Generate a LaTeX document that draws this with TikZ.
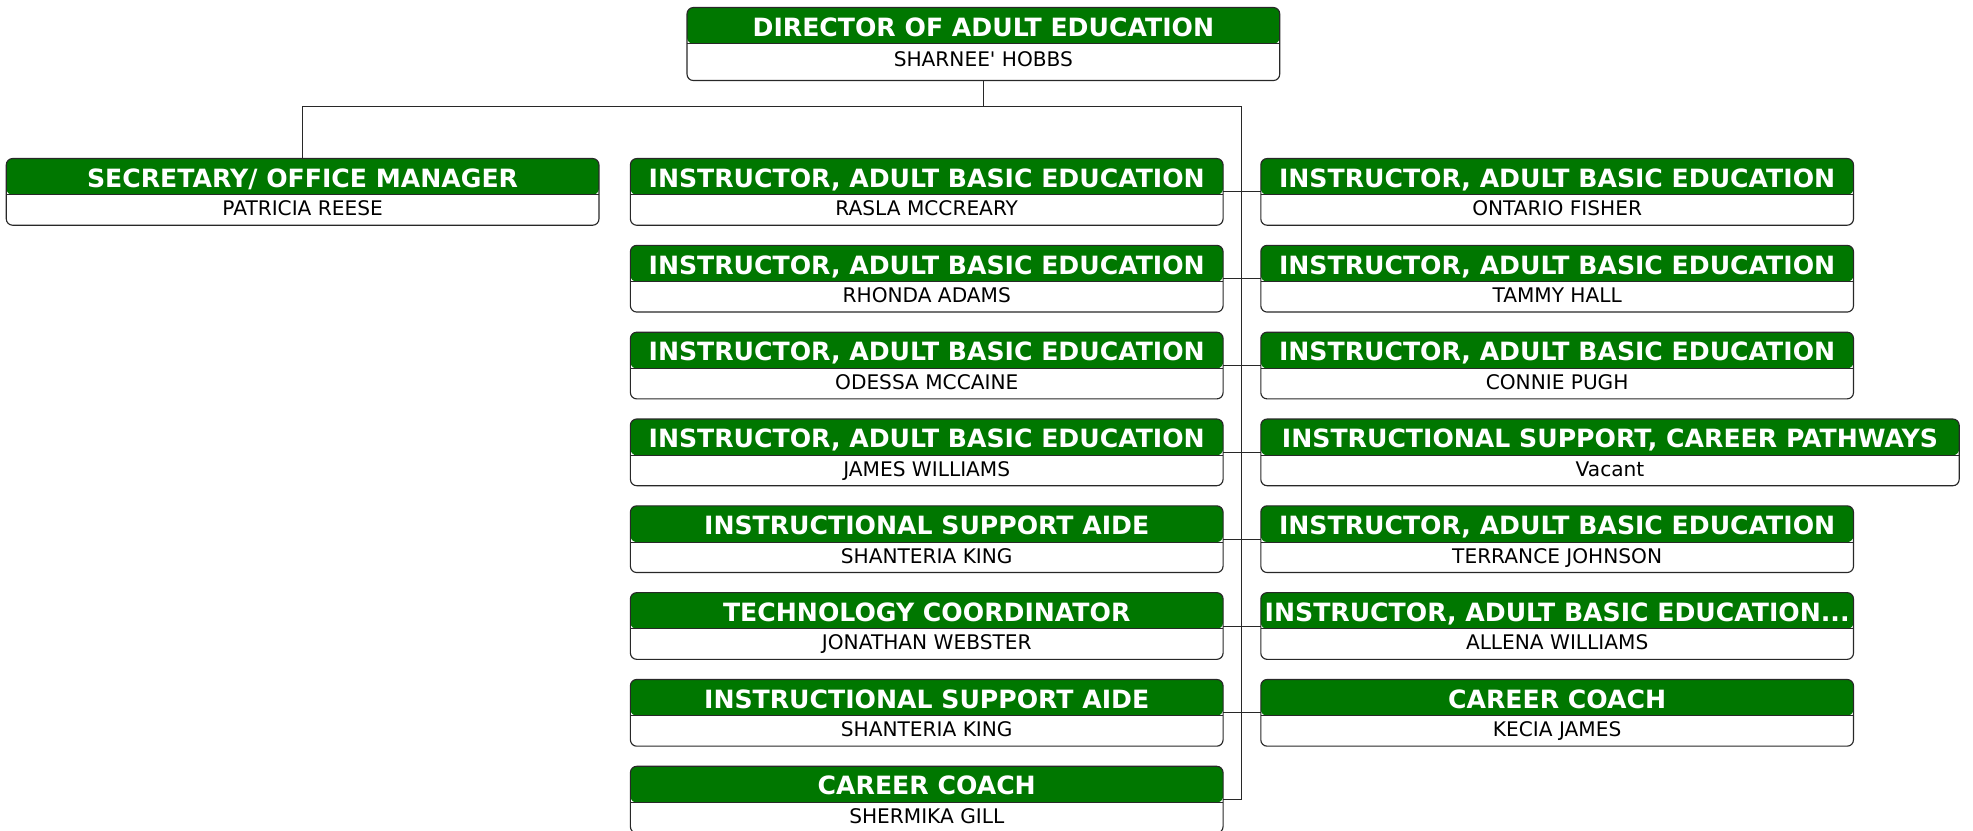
\documentclass[tikz,border=0pt]{standalone}
\usepackage{fontspec}
\setmainfont{DejaVu Sans}
\usetikzlibrary{calc}
\definecolor{hdr}{RGB}{0,119,0}
\definecolor{edge}{RGB}{40,40,40}
\tikzset{
  orgbox/.style={draw=edge, line width=0.9pt, fill=white, rounded corners=5pt,
    inner sep=0pt, outer sep=0pt, anchor=north west,
    path picture={\fill[hdr] (path picture bounding box.north west) rectangle ([yshift=-28.8pt]path picture bounding box.north east);
      \draw[edge, line width=0.9pt] ([yshift=-28.8pt]path picture bounding box.north west) -- ([yshift=-28.8pt]path picture bounding box.north east);}},
  ttl/.style={text=white, font=\fontsize{20}{20}\selectfont\bfseries, inner sep=0pt, anchor=base},
  nm/.style={text=black, font=\fontsize{16}{16}\selectfont, inner sep=0pt, anchor=base},
  link/.style={draw=edge, line width=0.8pt}
}
% #1 name, #2 x left, #3 y top, #4 width, #5 height, #6 title, #7 person
\newcommand\obox[7]{%
  \node[orgbox, minimum width=#4pt, minimum height=#5pt] (#1) at (#2,#3) {};
  \node[ttl] (#1t) at ({#2+#4/2},{#3+22.8}) {#6};
  \node[nm] (#1n) at ({#2+#4/2},{#3+min(#5-7.5,46.5)}) {#7};
}
\begin{document}
\begin{tikzpicture}[x=1pt,y=-1pt]
\useasboundingbox (0,0) rectangle (1568,660);
\obox{dir}{546}{6}{471}{58}{DIRECTOR OF ADULT EDUCATION}{SHARNEE\textquotesingle\ HOBBS}
\obox{sec}{5}{126}{471}{53}{SECRETARY/ OFFICE MANAGER}{PATRICIA REESE}
\obox{la}{501}{126}{471}{53}{INSTRUCTOR, ADULT BASIC EDUCATION}{RASLA MCCREARY}
\obox{lb}{501}{195}{471}{53}{INSTRUCTOR, ADULT BASIC EDUCATION}{RHONDA ADAMS}
\obox{lc}{501}{264}{471}{53}{INSTRUCTOR, ADULT BASIC EDUCATION}{ODESSA MCCAINE}
\obox{ld}{501}{333}{471}{53}{INSTRUCTOR, ADULT BASIC EDUCATION}{JAMES WILLIAMS}
\obox{le}{501}{402}{471}{53}{INSTRUCTIONAL SUPPORT AIDE}{SHANTERIA KING}
\obox{lf}{501}{471}{471}{53}{TECHNOLOGY COORDINATOR}{JONATHAN WEBSTER}
\obox{lg}{501}{540}{471}{53}{INSTRUCTIONAL SUPPORT AIDE}{SHANTERIA KING}
\obox{lh}{501}{609}{471}{53}{CAREER COACH}{SHERMIKA GILL}
\obox{ra}{1002}{126}{471}{53}{INSTRUCTOR, ADULT BASIC EDUCATION}{ONTARIO FISHER}
\obox{rb}{1002}{195}{471}{53}{INSTRUCTOR, ADULT BASIC EDUCATION}{TAMMY HALL}
\obox{rc}{1002}{264}{471}{53}{INSTRUCTOR, ADULT BASIC EDUCATION}{CONNIE PUGH}
\obox{rd}{1002}{333}{555}{53}{INSTRUCTIONAL SUPPORT, CAREER PATHWAYS}{Vacant}
\obox{re}{1002}{402}{471}{53}{INSTRUCTOR, ADULT BASIC EDUCATION}{TERRANCE JOHNSON}
\obox{rf}{1002}{471}{471}{53}{INSTRUCTOR, ADULT BASIC EDUCATION...}{ALLENA WILLIAMS}
\obox{rg}{1002}{540}{471}{53}{CAREER COACH}{KECIA JAMES}
\coordinate (trunk) at (987,85);
\draw[link] (dir.south) -- (dir.south |- trunk);
\draw[link] (sec.north) |- (trunk) -- (trunk |- lh.east) -- (lh.east);
\foreach \l/\r in {la/ra,lb/rb,lc/rc,ld/rd,le/re,lf/rf,lg/rg}
  \draw[link] (\l.east) -- (\r.west);
\end{tikzpicture}
\end{document}
